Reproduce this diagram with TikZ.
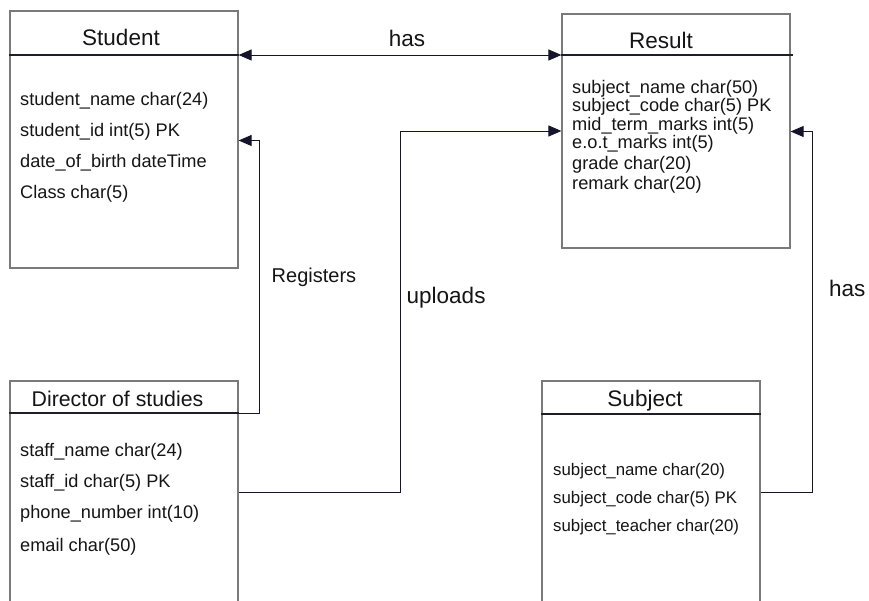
\documentclass[tikz,border=0pt]{standalone}
\usepackage{fontspec}
\setmainfont{Liberation Sans}
\usetikzlibrary{arrows.meta,calc}
\definecolor{boxgray}{HTML}{7A7A7A}
\definecolor{hdrline}{HTML}{1E1E28}
\definecolor{conn}{HTML}{14142A}
\definecolor{txt}{HTML}{151515}
\begin{document}
\begin{tikzpicture}[x=1pt,y=-1pt,
  entity/.style={draw=boxgray,line width=1.2pt,inner sep=0pt,fill=none},
  hline/.style={draw=hdrline,line width=1.1pt},
  hdr/.style={inner sep=0pt,anchor=base,text=txt,font=\fontsize{22.5}{24}\selectfont},
  attr/.style={inner sep=0pt,anchor=base west,text=txt,font=\fontsize{18.2}{20}\selectfont},
  attrs/.style={inner sep=0pt,anchor=base west,text=txt,font=\fontsize{16.8}{18}\selectfont},
  lbl/.style={inner sep=0pt,anchor=base west,text=txt,font=\fontsize{22.5}{24}\selectfont},
  conline/.style={draw=conn,line width=0.9pt},
  arr/.style={conline,-{Triangle[length=13pt,width=11pt]}},
  darr/.style={conline,{Triangle[length=13pt,width=11pt]}-{Triangle[length=13pt,width=11pt]}}]
\useasboundingbox (0,0) rectangle (869,601);
\clip (0,0) rectangle (869,601);
\fill[white] (0,0) rectangle (869,601);

% entity boxes
\node[entity,minimum width=228pt,minimum height=257pt] (student) at (124,139.5) {};
\node[entity,minimum width=228pt,minimum height=234pt] (result) at (676,131) {};
\node[entity,minimum width=228pt,minimum height=239pt] (director) at (124,500.5) {};
\node[entity,minimum width=218pt,minimum height=239pt] (subject) at (651,500.5) {};

% header separators
\draw[hline] (student.west |- 0,55) -- (student.east |- 0,55);
\draw[hline] (result.west |- 0,55) -- ($(result.east |- 0,55)+(2,0)$);
\draw[hline] (director.west |- 0,413) -- (director.east |- 0,413);
\draw[hline] (subject.west |- 0,414) -- (subject.east |- 0,414);

% headers
\node[hdr] (tStudent) at (121,46) {Student};
\node[hdr] (tResult) at (661,49) {Result};
\node[hdr,font=\fontsize{21.3}{23}\selectfont] (tDirector) at (117.5,406.5) {Director of studies};
\node[hdr] (tSubject) at (645,406.5) {Subject};

% Student attributes
\node[attr] (s1) at (20,106) {student\_name char(24)};
\node[attr] (s2) at (20,137) {student\_id int(5) PK};
\node[attr] (s3) at (20,168) {date\_of\_birth dateTime};
\node[attr] (s4) at (20,199) {Class char(5)};

% Result attributes
\node[attr] (r1) at (572,94) {subject\_name char(50)};
\node[attr] (r2) at (572,112) {subject\_code char(5) PK};
\node[attr] (r3) at (572,130.5) {mid\_term\_marks int(5)};
\node[attr] (r4) at (572,149) {e.o.t\_marks int(5)};
\node[attr] (r5) at (572,169.5) {grade char(20)};
\node[attr] (r6) at (572,189.5) {remark char(20)};

% Director attributes
\node[attr] (d1) at (20,456) {staff\_name char(24)};
\node[attr] (d2) at (20,487.5) {staff\_id char(5) PK};
\node[attr] (d3) at (20,518.5) {phone\_number int(10)};
\node[attr] (d4) at (20,551) {email char(50)};

% Subject attributes
\node[attrs] (j1) at (553,475) {subject\_name char(20)};
\node[attrs] (j2) at (553,503.3) {subject\_code char(5) PK};
\node[attrs] (j3) at (553,531.7) {subject\_teacher char(20)};

% connectors
\draw[darr] (student.east |- 0,55) -- (result.west |- 0,55);
\draw[arr] (director.east |- 0,413) -- (259.5,413) |- (student.east |- 0,140.5);
\draw[arr] (director.east |- 0,492) -- (400,492) |- (result.west |- 0,131);
\draw[arr] (subject.east |- 0,492.3) -- (812,492.3) |- (result.east |- 0,131.5);

% relationship labels
\node[lbl,anchor=base] (hasTop) at (407,46.7) {has};
\node[lbl,font=\fontsize{20}{22}\selectfont] (reg) at (271.5,282.3) {Registers};
\node[lbl] (upl) at (406.5,303.3) {uploads};
\node[lbl] (hasRight) at (829,296.7) {has};
\end{tikzpicture}
\end{document}
